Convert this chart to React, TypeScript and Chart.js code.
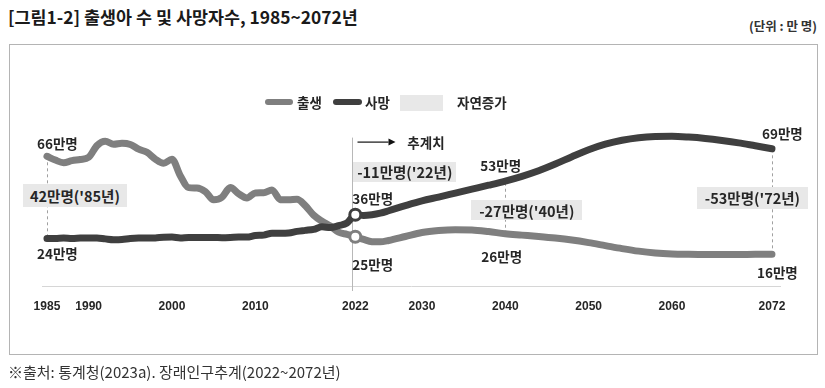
import React, { useEffect, useRef, useState } from 'react';
import { Chart, registerables } from 'chart.js';
Chart.register(...registerables);

// ---------------- data (만 명) ----------------
const years = [
  1985, 1986, 1987, 1988, 1989, 1990, 1991, 1992, 1993, 1994, 1995, 1996, 1997, 1998, 1999,
  2000, 2001, 2002, 2003, 2004, 2005, 2006, 2007, 2008, 2009, 2010, 2011, 2012, 2013, 2014,
  2015, 2016, 2017, 2018, 2019, 2020, 2021, 2022,
  2023, 2024, 2025, 2026, 2028, 2030, 2032, 2034, 2036, 2038, 2040, 2042, 2044, 2046, 2048,
  2050, 2052, 2054, 2056, 2058, 2060, 2062, 2064, 2066, 2068, 2070, 2072,
];
const births = [
  65.5, 63.6, 62.3, 63.3, 63.9, 65.0, 70.9, 73.1, 71.6, 72.1, 71.5, 69.1, 67.5, 64.1, 62.0,
  64.0, 55.7, 49.7, 49.5, 47.7, 43.5, 44.8, 49.7, 46.6, 44.5, 47.0, 47.1, 48.5, 43.6, 43.5,
  43.8, 40.6, 35.8, 32.7, 30.3, 27.2, 26.1, 24.9,
  23.5, 22.4, 22.3, 23.0, 25.0, 27.0, 28.0, 28.4, 28.3, 27.5, 26.4, 25.7, 25.0, 24.2, 23.2,
  21.9, 20.4, 18.9, 17.6, 16.7, 16.2, 16.0, 15.9, 15.9, 15.9, 16.0, 16.0,
];
const deaths = [
  24.0, 24.0, 24.2, 24.0, 24.2, 24.3, 24.3, 23.8, 23.4, 23.5, 24.0, 24.2, 24.2, 24.3, 24.6,
  24.7, 24.3, 24.5, 24.5, 24.5, 24.5, 24.4, 24.5, 24.7, 24.7, 25.5, 25.7, 26.7, 26.7, 26.8,
  27.6, 28.1, 28.6, 29.9, 29.5, 30.5, 31.8, 36.0,
  35.6, 36.0, 36.8, 38.0, 40.6, 43.0, 44.9, 46.9, 48.9, 50.9, 53.0, 55.4, 58.2, 61.6, 65.3,
  68.8, 71.6, 73.6, 74.9, 75.5, 75.6, 75.2, 74.5, 73.5, 72.3, 70.8, 69.3,
];
const tickYears = [1985, 1990, 2000, 2010, 2022, 2030, 2040, 2050, 2060, 2072];
const projectionStart = 2022;
const dashedYears = [1985, 2040, 2072];

const seriesNames = ['출생', '사망'];
const naturalIncreaseName = '자연증가';
const projectionLabel = '추계치';
const titleText = '[그림1-2] 출생아 수 및 사망자수, 1985~2072년';
const unitText = '(단위 : 만 명)';
const sourceText = '※출처: 통계청(2023a). 장래인구추계(2022~2072년)';

// ---------------- styles / layout ----------------
const BIRTH_COLOR = '#7f7f7f';
const DEATH_COLOR = '#3f3f3f';
const TEXT_COLOR = '#262626';
const BOX_BG = '#e8e8e8';
const KR = '"Noto Sans CJK KR", "Noto Sans", sans-serif';

const valueLabelLayout = [
  { series: 0, year: 1985, dx: -10, dy: -13 },
  { series: 1, year: 1985, dx: -10, dy: 15 },
  { series: 1, year: 2022, dx: -3, dy: -17 },
  { series: 0, year: 2022, dx: -3, dy: 27 },
  { series: 1, year: 2040, dx: -25, dy: -16 },
  { series: 0, year: 2040, dx: -24, dy: 22 },
  { series: 1, year: 2072, dx: -10, dy: -16 },
  { series: 0, year: 2072, dx: -15, dy: 18 },
];
const gapBoxLayout = [
  { year: 1985, dx: -24, dy: -2, w: 104, h: 23 },
  { year: 2022, dx: -2, dy: -54, w: 103, h: 20 },
  { year: 2040, dx: -34, dy: 3, w: 111, h: 20 },
  { year: 2072, dx: -75, dy: -4, w: 111, h: 22 },
];

type Placed = { text: string; left: number; top: number; w?: number; h?: number; boxed: boolean };

const overlayPlugin = {
  id: 'overlayPlugin',
  beforeDatasetsDraw(chart: any) {
    const { ctx, scales, chartArea } = chart;
    const x = scales.x;
    const y = scales.y;
    ctx.save();
    ctx.strokeStyle = '#a0a0a0';
    ctx.lineWidth = 1;
    ctx.setLineDash([3, 3]);
    dashedYears.forEach((yr) => {
      const i = years.indexOf(yr);
      const px = Math.round(x.getPixelForValue(yr)) + 0.5;
      ctx.beginPath();
      ctx.moveTo(px, y.getPixelForValue(births[i]));
      ctx.lineTo(px, y.getPixelForValue(deaths[i]));
      ctx.stroke();
    });
    ctx.setLineDash([]);
    ctx.strokeStyle = '#b8b8b8';
    const dvx = Math.round(x.getPixelForValue(projectionStart)) - 3 + 0.5;
    ctx.beginPath();
    ctx.moveTo(dvx, chartArea.top + 10);
    ctx.lineTo(dvx, chartArea.bottom + 5);
    ctx.stroke();
    const ay = chartArea.top + 14.5;
    const ax0 = dvx + 5;
    const ax1 = dvx + 36;
    ctx.strokeStyle = '#111';
    ctx.fillStyle = '#111';
    ctx.lineWidth = 1.2;
    ctx.beginPath();
    ctx.moveTo(ax0, ay);
    ctx.lineTo(ax1, ay);
    ctx.stroke();
    ctx.beginPath();
    ctx.moveTo(ax1, ay - 3.5);
    ctx.lineTo(ax1 + 7, ay);
    ctx.lineTo(ax1, ay + 3.5);
    ctx.closePath();
    ctx.fill();
    ctx.restore();
  },
};

export default function App() {
  const canvasRef = useRef<HTMLCanvasElement>(null);
  const [placed, setPlaced] = useState<Placed[]>([]);
  const [arrowPos, setArrowPos] = useState<{ x: number; y: number } | null>(null);

  useEffect(() => {
    const series = [births, deaths];
    const pointR = (ctx: any) => (ctx.raw && ctx.raw.x === projectionStart ? 5.5 : 0);
    const mk = (label: string, values: number[], color: string) => ({
      label,
      data: years.map((yr, i) => ({ x: yr, y: values[i] })),
      borderColor: color,
      backgroundColor: '#ffffff',
      borderWidth: 7,
      borderCapStyle: 'round',
      borderJoinStyle: 'round',
      cubicInterpolationMode: 'monotone',
      pointRadius: pointR,
      pointBorderWidth: 3,
      pointBorderColor: color,
      pointBackgroundColor: '#ffffff',
    });
    const chart = new Chart(canvasRef.current!, {
      type: 'line',
      data: {
        datasets: [mk(seriesNames[1], deaths, DEATH_COLOR), mk(seriesNames[0], births, BIRTH_COLOR)],
      },
      options: {
        animation: false,
        responsive: false,
        devicePixelRatio: 1,
        layout: { padding: { left: 42.8, right: 44.7, top: 127.6, bottom: 72 } },
        plugins: { legend: { display: false }, tooltip: { enabled: false } },
        scales: {
          x: {
            type: 'linear',
            min: 1984.5,
            max: 2073,
            afterBuildTicks: (scale: any) => {
              scale.ticks = tickYears.map((v) => ({ value: v }));
            },
            afterFit: (scale: any) => {
              scale.height = 30;
            },
            grid: { display: false, drawOnChartArea: false, drawTicks: false },
            border: { display: true, color: '#d6d6d6', width: 1 },
            ticks: {
              autoSkip: false,
              maxRotation: 0,
              padding: 13,
              color: TEXT_COLOR,
              font: { family: '"Liberation Sans", Arial, sans-serif', size: 12, weight: 'bold' },
              callback: (v: any) => String(v),
            },
          },
          y: { display: false, min: 0, max: 80 },
        },
      } as any,
      plugins: [overlayPlugin],
    } as any);

    const xs: any = chart.scales.x;
    const ys: any = chart.scales.y;
    const list: Placed[] = [];
    valueLabelLayout.forEach((l) => {
      const i = years.indexOf(l.year);
      const v = series[l.series][i];
      list.push({
        text: `${Math.round(v)}만명`,
        left: xs.getPixelForValue(l.year) + l.dx,
        top: ys.getPixelForValue(v) + l.dy - 9,
        boxed: false,
      });
    });
    gapBoxLayout.forEach((b) => {
      const i = years.indexOf(b.year);
      const gap = births[i] - deaths[i];
      const mid = (births[i] + deaths[i]) / 2;
      const r = Math.round(gap);
      const yy = String(b.year).slice(2);
      list.push({
        text: `${r < 0 ? '-' : ''}${Math.abs(r)}만명('${yy}년)`,
        left: xs.getPixelForValue(b.year) + b.dx,
        top: ys.getPixelForValue(mid) + b.dy - b.h / 2,
        w: b.w,
        h: b.h,
        boxed: true,
      });
    });
    setPlaced(list);
    setArrowPos({ x: xs.getPixelForValue(projectionStart) + 52, y: chart.chartArea.top + 14.5 });
    return () => chart.destroy();
  }, []);

  const lbl = (extra: React.CSSProperties): React.CSSProperties => ({
    position: 'absolute',
    fontFamily: KR,
    fontWeight: 700,
    color: TEXT_COLOR,
    whiteSpace: 'nowrap',
    ...extra,
  });

  return (
    <div style={{ position: 'absolute', left: 0, top: 0, width: 825, height: 388, background: '#fff', overflow: 'hidden' }}>
      <div style={lbl({ left: 8, top: 6, fontSize: 17.4, lineHeight: '22px', color: '#1a1a1a' })}>{titleText}</div>
      <div style={lbl({ right: 8, top: 17, fontSize: 12.5, lineHeight: '18px', color: '#333' })}>{unitText}</div>
      <div
        style={{
          position: 'absolute',
          left: 9,
          top: 44,
          width: 807,
          height: 309,
          border: '1px solid #b4b4b4',
        }}
      />
      <canvas ref={canvasRef} width={825} height={388} style={{ position: 'absolute', left: 0, top: 0, width: 825, height: 388 }} />
      <div style={{ position: 'absolute', left: 265, top: 99, width: 28, height: 6, borderRadius: 3, background: BIRTH_COLOR }} />
      <div style={lbl({ left: 297, top: 93, fontSize: 13.5, lineHeight: '18px' })}>{seriesNames[0]}</div>
      <div style={{ position: 'absolute', left: 333, top: 99, width: 29, height: 6, borderRadius: 3, background: DEATH_COLOR }} />
      <div style={lbl({ left: 365, top: 93, fontSize: 13.5, lineHeight: '18px' })}>{seriesNames[1]}</div>
      <div style={{ position: 'absolute', left: 400, top: 95, width: 43, height: 16, background: BOX_BG }} />
      <div style={lbl({ left: 457, top: 93, fontSize: 13.5, lineHeight: '18px' })}>{naturalIncreaseName}</div>
      {arrowPos && (
        <div style={lbl({ left: arrowPos.x, top: arrowPos.y - 9, fontSize: 13.5, lineHeight: '18px' })}>{projectionLabel}</div>
      )}
      {placed.map((p, i) =>
        p.boxed ? (
          <div
            key={i}
            style={lbl({
              left: p.left,
              top: p.top,
              width: p.w,
              height: p.h,
              background: BOX_BG,
              display: 'flex',
              alignItems: 'center',
              justifyContent: 'center',
              fontSize: 14.5,
            })}
          >
            {p.text}
          </div>
        ) : (
          <div key={i} style={lbl({ left: p.left, top: p.top, fontSize: 13.5, lineHeight: '18px' })}>
            {p.text}
          </div>
        )
      )}
      <div style={lbl({ left: 8, top: 363, fontSize: 15, lineHeight: '18px', fontWeight: 400, color: '#333' })}>{sourceText}</div>
    </div>
  );
}
